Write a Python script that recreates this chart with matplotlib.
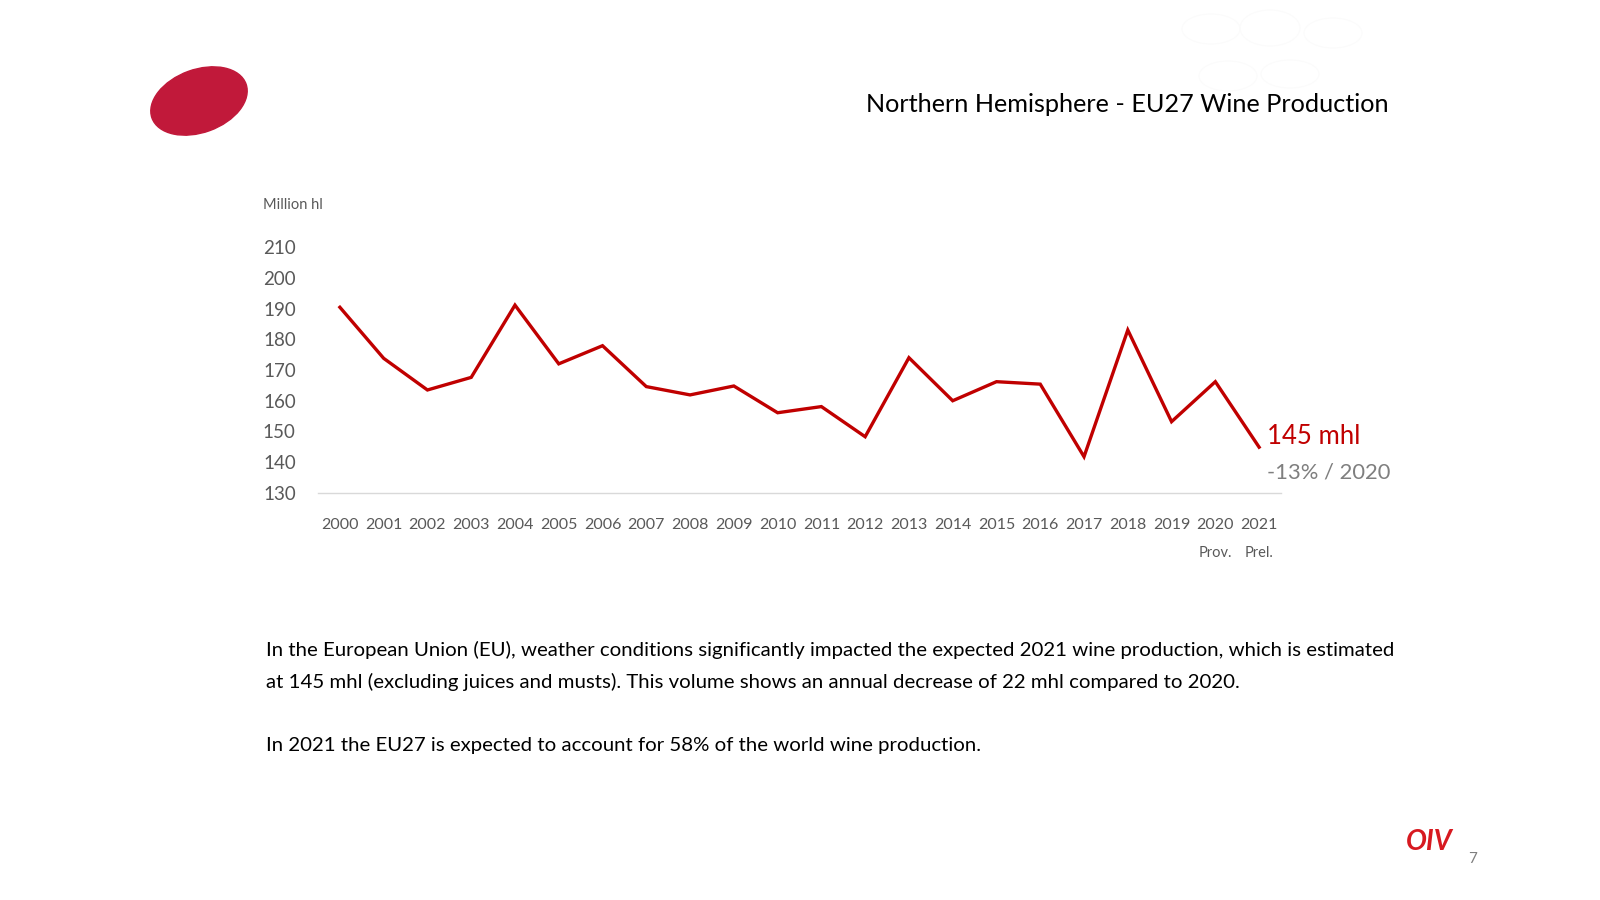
import numpy as np
import matplotlib
matplotlib.use("Agg")
import matplotlib.pyplot as plt
from matplotlib.patches import Ellipse

plt.rcParams['font.family'] = ['Lato', 'DejaVu Sans']

# EU27 wine production, million hl
years = ['2000', '2001', '2002', '2003', '2004', '2005', '2006', '2007', '2008', '2009', '2010',
         '2011', '2012', '2013', '2014', '2015', '2016', '2017', '2018', '2019', '2020', '2021']
production = [190.4, 173.8, 163.5, 167.6, 191.1, 172.0, 177.9, 164.6, 161.9, 164.8, 156.1,
              158.1, 148.3, 174.0, 160.0, 166.2, 165.4, 141.8, 183.0, 153.2, 166.2, 144.9]
year_notes = {'2020': 'Prov.', '2021': 'Prel.'}
y_ticks = [130, 140, 150, 160, 170, 180, 190, 200, 210]

title = "Northern Hemisphere - EU27 Wine Production"
body_lines = [
    "In the European Union (EU), weather conditions significantly impacted the expected 2021 wine production, which is estimated",
    "at 145 mhl (excluding juices and musts). This volume shows an annual decrease of 22 mhl compared to 2020.",
    "",
    "In 2021 the EU27 is expected to account for 58% of the world wine production.",
]

W, H = 1600, 900
fig = plt.figure(figsize=(16, 9), dpi=100)
fig.patch.set_facecolor('white')

def px(x, y):
    # pixel (from top-left) -> figure fraction
    return x / W, 1 - y / H

# red ellipse logo
deco = fig.add_axes([0, 0, 1, 1], zorder=0)
deco.set_xlim(0, W)
deco.set_ylim(H, 0)
deco.axis('off')
deco.add_patch(Ellipse((199, 101), 100, 63, angle=-20, color='#C1193A'))
# barely visible watermark circles top right
for cx, cy, ew, eh in [(1211, 29, 58, 30), (1270, 28, 60, 36), (1333, 33, 58, 30),
                       (1228, 76, 58, 30), (1290, 74, 58, 28)]:
    deco.add_patch(Ellipse((cx, cy), ew, eh, fill=False, edgecolor='#fbfbfb', lw=0.8))

ax = fig.add_axes([318 / W, 1 - 493 / H, (1281 - 318) / W, (493 - 247) / H], zorder=1)
x = np.arange(len(years))
ax.plot(x, production, color='#C00000', lw=2.4, solid_joinstyle='miter')
ax.set_xlim(-0.5, len(years) - 0.5)
ax.set_ylim(130, 210)
ax.set_yticks(y_ticks)
ax.set_yticklabels([str(v) for v in y_ticks], fontsize=13.5, color='#595959')
ax.set_xticks(x)
ax.set_xticklabels(years, fontsize=11.5, color='#595959')
ax.tick_params(axis='both', length=0)
ax.tick_params(axis='y', pad=16)
ax.tick_params(axis='x', pad=18)
for s in ['top', 'right', 'left']:
    ax.spines[s].set_visible(False)
ax.spines['bottom'].set_color('#D9D9D9')
ax.spines['bottom'].set_linewidth(1)
ax.patch.set_alpha(0)

for i, yr in enumerate(years):
    if yr in year_notes:
        ax.annotate(year_notes[yr], xy=(i, 130), xytext=(0, -60), textcoords='offset pixels',
                    ha='center', va='center', fontsize=10.5, color='#595959')

ax.annotate(f"{production[-1]:.0f} mhl", xy=(len(years) - 1, production[-1]), xytext=(8, 11),
            textcoords='offset pixels', ha='left', va='center', fontsize=18.5, color='#C00000')
ax.annotate("-13% / 2020", xy=(len(years) - 1, production[-1]), xytext=(8, -25),
            textcoords='offset pixels', ha='left', va='center', fontsize=15.8, color='#7F7F7F')

fig.text(*px(263, 205), "Million hl", fontsize=10.5, color='#595959', ha='left', va='center')

fig.text(*px(1389, 104), title, fontsize=18.2, color='black', ha='right', va='center')

for i, line in enumerate(body_lines):
    if line:
        fig.text(*px(266, 650 + i * 32), line, fontsize=14.7, color='black', ha='left', va='center')

fig.text(*px(1429, 842), "OIV", fontsize=20, fontweight='bold', fontstyle='italic',
         color='#D71920', ha='center', va='center')
fig.text(*px(1473, 859), "7", fontsize=11, color='#7F7F7F', ha='center', va='center')

fig.savefig('out.png', dpi=100, facecolor='white')
